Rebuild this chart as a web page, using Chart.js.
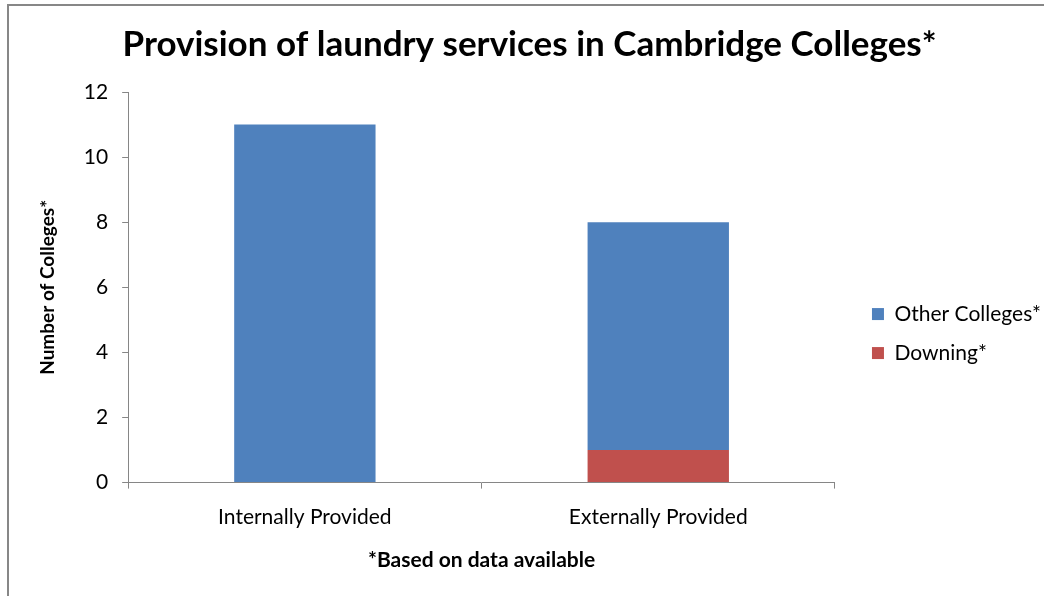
<!DOCTYPE html>
<html>
<head>
<meta charset="utf-8">
<script src="https://cdn.jsdelivr.net/npm/chart.js@4"></script>
<style>
    html, body { margin: 0; padding: 0; background: #fff; overflow: hidden; }
    #wrap { position: relative; width: 1051px; height: 596px; }
    #frame { position: absolute; left: 7px; top: 4px; width: 1035px; height: 600px;
             border-top: 2px solid #878787; border-left: 2px solid #878787; }
    canvas { position: absolute; left: 0; top: 0; }
</style>
</head>
<body>
<div id="wrap">
    <div id="frame"></div>
    <canvas id="barChart" width="1051" height="596"></canvas>
</div>
<script>
// chart data
const categories = ['Internally Provided', 'Externally Provided'];
const downing = [0, 1];
const otherColleges = [11, 7];
const yTicks = [0, 2, 4, 6, 8, 10, 12];

const FONT = 'Lato, "Open Sans", sans-serif';
const AXIS_GREY = '#868686';

window.onload = () => {
    const ctx = document.getElementById('barChart');
    new Chart(ctx, {
        type: 'bar',
        data: {
            labels: categories,
            datasets: [{
                label: 'Downing*',
                data: downing,
                backgroundColor: '#C0504D',
                barPercentage: 0.4,
                categoryPercentage: 1.0
            }, {
                label: 'Other Colleges*',
                data: otherColleges,
                backgroundColor: '#4F81BD',
                barPercentage: 0.4,
                categoryPercentage: 1.0
            }]
        },
        options: {
            responsive: false,
            animation: false,
            devicePixelRatio: 1,
            layout: {
                padding: { left: 8, right: 0, top: 0, bottom: 0 }
            },
            plugins: {
                title: {
                    display: true,
                    text: 'Provision of laundry services in Cambridge Colleges*',
                    color: '#000',
                    font: { family: FONT, size: 35, weight: 'bold' },
                    padding: { top: 24, bottom: 26 }
                },
                legend: {
                    position: 'right',
                    reverse: true,
                    // empty title only pushes the items down
                    title: { display: true, text: '', padding: { top: 71, bottom: 0 }, font: { size: 0.1 } },
                    labels: {
                        boxWidth: 12,
                        boxHeight: 12,
                        padding: 18,
                        color: '#000',
                        font: { family: FONT, size: 21 }
                    }
                },
                tooltip: { enabled: false }
            },
            scales: {
                x: {
                    stacked: true,
                    grid: {
                        offset: true,
                        drawOnChartArea: false,
                        drawTicks: true,
                        tickLength: 6,
                        color: AXIS_GREY
                    },
                    border: { display: true, color: AXIS_GREY, width: 1 },
                    ticks: {
                        color: '#000',
                        padding: 16,
                        maxRotation: 0,
                        minRotation: 0,
                        font: { family: FONT, size: 21 }
                    },
                    title: {
                        display: true,
                        text: '*Based on data available',
                        color: '#000',
                        font: { family: FONT, size: 21, weight: 'bold' },
                        padding: { top: 2, bottom: 23 }
                    }
                },
                y: {
                    stacked: true,
                    min: 0,
                    max: 12,
                    afterBuildTicks: (scale) => {
                        scale.ticks = yTicks.map(v => ({ value: v }));
                    },
                    grid: {
                        drawOnChartArea: false,
                        drawTicks: true,
                        tickLength: 6,
                        color: AXIS_GREY
                    },
                    border: { display: true, color: AXIS_GREY, width: 1 },
                    ticks: {
                        color: '#000',
                        padding: 14,
                        font: { family: FONT, size: 21 }
                    },
                    title: {
                        display: true,
                        text: 'Number of Colleges*',
                        color: '#000',
                        font: { family: FONT, size: 19, weight: 'bold' },
                        padding: { top: 28, bottom: 11 }
                    }
                },
                // hidden right axis, only keeps a gap between plot and legend
                gap: {
                    position: 'right',
                    display: false,
                    afterFit: (scale) => { scale.width = 19; }
                }
            }
        }
    });
};
</script>
</body>
</html>
